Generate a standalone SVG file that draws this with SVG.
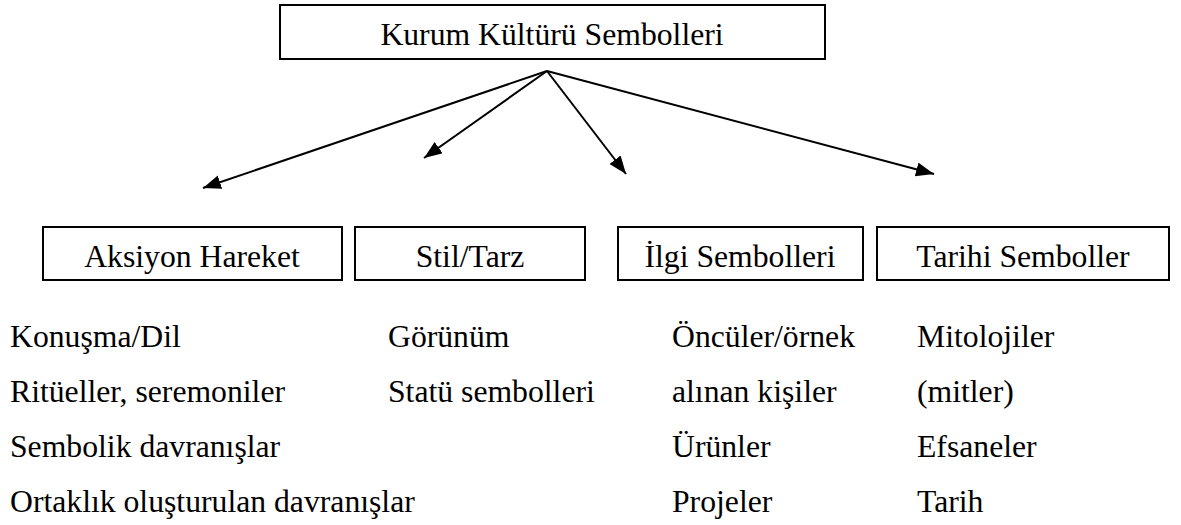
<svg xmlns="http://www.w3.org/2000/svg" width="1181" height="525" viewBox="0 0 1181 525">
  <style>
    .box { fill: #ffffff; stroke: #000000; stroke-width: 2; }
    .label { font-size: 31.7px; fill: #000000; }
    .mid { text-anchor: middle; }
    .edge { stroke: #000000; stroke-width: 2; fill: none; marker-end: url(#arrow); }
  </style>
  <defs>
    <marker id="arrow" markerUnits="userSpaceOnUse" markerWidth="20" markerHeight="16" refX="18" refY="7" orient="auto">
      <path d="M0,0 L18,7 L0,14 Z" fill="#000000"/>
    </marker>
  </defs>
  <rect width="1181" height="525" fill="#ffffff"/>

  <!-- root node -->
  <g id="kurum-kulturu">
    <rect class="box" x="280" y="5" width="545" height="54"/>
    <text class="label mid" x="552" y="45" font-family="Times New Roman, serif">Kurum Kültürü Sembolleri</text>
  </g>

  <!-- connectors from the root -->
  <g id="connectors">
    <line class="edge" x1="547" y1="71" x2="203" y2="188"/>
    <line class="edge" x1="547" y1="71" x2="424" y2="158"/>
    <line class="edge" x1="547" y1="71" x2="626" y2="174"/>
    <line class="edge" x1="547" y1="71" x2="934" y2="174"/>
  </g>

  <!-- category nodes -->
  <g id="aksiyon-hareket">
    <rect class="box" x="43" y="227" width="299" height="53"/>
    <text class="label mid" x="192" y="267" font-family="Times New Roman, serif">Aksiyon Hareket</text>
  </g>
  <g id="stil-tarz">
    <rect class="box" x="355" y="227" width="230" height="53"/>
    <text class="label mid" x="470" y="267" font-family="Times New Roman, serif">Stil/Tarz</text>
  </g>
  <g id="ilgi-sembolleri">
    <rect class="box" x="618" y="227" width="245" height="53"/>
    <text class="label mid" x="740" y="267" font-family="Times New Roman, serif">İlgi Sembolleri</text>
  </g>
  <g id="tarihi-semboller">
    <rect class="box" x="877" y="227" width="292" height="53"/>
    <text class="label mid" x="1023" y="267" font-family="Times New Roman, serif">Tarihi Semboller</text>
  </g>

  <!-- item lists under each category -->
  <g id="aksiyon-items">
    <text class="label" x="10" y="347" font-family="Times New Roman, serif">Konuşma/Dil</text>
    <text class="label" x="10" y="402" font-family="Times New Roman, serif">Ritüeller, seremoniler</text>
    <text class="label" x="10" y="457" font-family="Times New Roman, serif">Sembolik davranışlar</text>
    <text class="label" x="10" y="512" font-family="Times New Roman, serif">Ortaklık oluşturulan davranışlar</text>
  </g>
  <g id="stil-items">
    <text class="label" x="388" y="347" font-family="Times New Roman, serif">Görünüm</text>
    <text class="label" x="388" y="402" font-family="Times New Roman, serif">Statü sembolleri</text>
  </g>
  <g id="ilgi-items">
    <text class="label" x="672" y="347" font-family="Times New Roman, serif">Öncüler/örnek</text>
    <text class="label" x="672" y="402" font-family="Times New Roman, serif">alınan kişiler</text>
    <text class="label" x="672" y="457" font-family="Times New Roman, serif">Ürünler</text>
    <text class="label" x="672" y="512" font-family="Times New Roman, serif">Projeler</text>
  </g>
  <g id="tarihi-items">
    <text class="label" x="917" y="347" font-family="Times New Roman, serif">Mitolojiler</text>
    <text class="label" x="917" y="402" font-family="Times New Roman, serif">(mitler)</text>
    <text class="label" x="917" y="457" font-family="Times New Roman, serif">Efsaneler</text>
    <text class="label" x="917" y="512" font-family="Times New Roman, serif">Tarih</text>
  </g>
</svg>
